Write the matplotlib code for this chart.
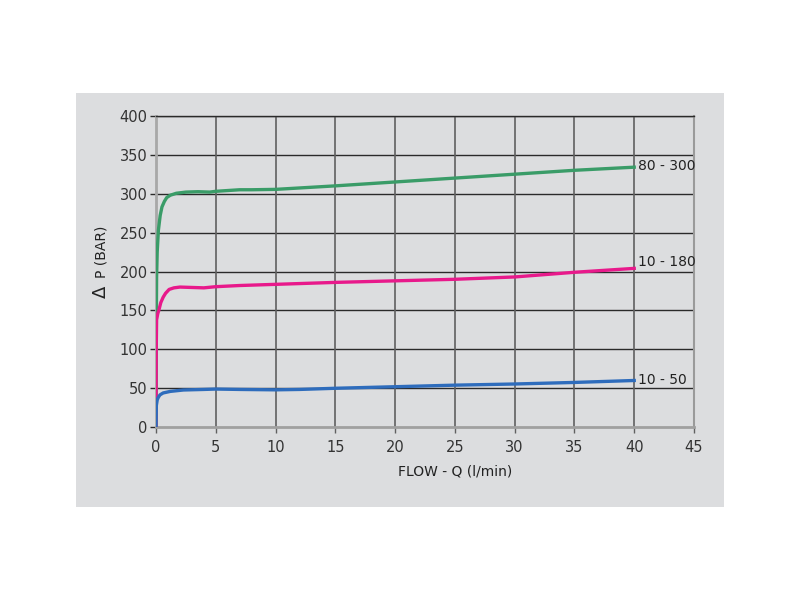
import matplotlib
matplotlib.use('Agg')
from matplotlib import pyplot as plt
from matplotlib.patches import Rectangle

# flow (l/min) vs pressure drop (bar)
green_q = [0, 0.02, 0.05, 0.1, 0.2, 0.35, 0.5, 0.7, 0.9, 1.2, 1.7, 2.5, 3.5, 4.5, 5, 6, 7, 8, 10, 15, 20, 25, 30, 35, 40]
green_p = [0, 120, 193, 225, 253, 272, 283, 290, 295, 298, 300.5, 302, 302.5, 302, 303, 304, 305, 305, 305.5, 310, 315, 320, 325, 330, 334]

pink_q = [0, 0.02, 0.05, 0.15, 0.25, 0.4, 0.6, 0.8, 1.1, 1.5, 2, 3, 4, 5, 7, 10, 15, 20, 25, 30, 35, 40]
pink_p = [0, 100, 138, 146, 151, 160, 167, 172, 177, 179, 180, 179.5, 179, 180.5, 182, 183.5, 186, 188, 190, 193, 199, 204]

blue_q = [0, 0.03, 0.1, 0.2, 0.33, 0.6, 1.2, 2.3, 4, 5, 7, 10, 12, 15, 20, 25, 30, 35, 40]
blue_p = [0, 28, 35, 38.5, 41.5, 44, 46, 47.8, 48.5, 49, 48.5, 48, 48.5, 50, 52, 54, 55.5, 57.5, 60]

series_labels = ['80 - 300', '10 - 180', '10 - 50']
label_y = [335, 212, 60]

x_ticks = list(range(0, 50, 5))
y_ticks = list(range(0, 450, 50))

bg = '#dcdddf'
fig = plt.figure(figsize=(8, 6), dpi=100)
fig.patch.set_facecolor('white')
# grey panel behind the chart
panel = Rectangle((0.095, 0.155), 0.81, 0.69, transform=fig.transFigure,
                  facecolor=bg, edgecolor='none', zorder=-10)
fig.add_artist(panel)

ax = fig.add_axes([0.195, 0.288, 0.6725, 0.519])
ax.set_zorder(5)
ax.set_facecolor(bg)
ax.set_xlim(0, 45)
ax.set_ylim(0, 400)
ax.set_xticks(x_ticks)
ax.set_yticks(y_ticks)

# grid: dark horizontals, grey verticals
for y in y_ticks[1:]:
    ax.axhline(y, color='#2a2a2a', lw=1.0, zorder=1)
for x in x_ticks[1:-1]:
    ax.axvline(x, color='#606060', lw=1.2, zorder=1)

ax.spines['left'].set_color('#a8a8a8')
ax.spines['left'].set_linewidth(2)
ax.spines['bottom'].set_color('#a0a0a0')
ax.spines['bottom'].set_linewidth(2)
ax.spines['right'].set_color('#9a9a9a')
ax.spines['right'].set_linewidth(1.5)
ax.spines['top'].set_color('#2a2a2a')
ax.spines['top'].set_linewidth(1.0)

ax.tick_params(axis='y', length=4, width=1, color='#2a2a2a', pad=2, labelsize=10.5, labelcolor='#333333')
ax.tick_params(axis='x', length=4, width=1, color='#606060', pad=5, labelsize=10.5, labelcolor='#333333')

ax.plot(green_q, green_p, color='#3a9c68', lw=2.4, zorder=3)
ax.plot(pink_q, pink_p, color='#e8198b', lw=2.4, zorder=3)
ax.plot(blue_q, blue_p, color='#2e6cbc', lw=2.4, zorder=3)

for lab, y in zip(series_labels, label_y):
    ax.text(40.3, y, lab, fontsize=10, color='#222222', ha='left', va='center')

ax.set_xlabel('FLOW - Q (l/min)', fontsize=10, color='#222222')
ax.xaxis.set_label_coords(0.556, -0.12)
# y label: delta drawn bigger, apart from the text
ax.text(-0.102, 0.434, '\u0394', fontsize=13, color='#222222', rotation=90,
        ha='center', va='center', transform=ax.transAxes)
ax.text(-0.102, 0.563, 'P (BAR)', fontsize=10, color='#222222', rotation=90,
        ha='center', va='center', transform=ax.transAxes)

plt.savefig('out.png', dpi=100)
